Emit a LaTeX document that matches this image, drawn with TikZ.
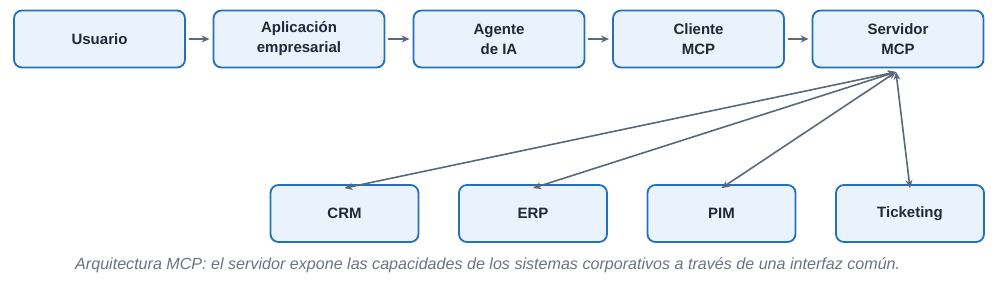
\documentclass[tikz,border=0pt]{standalone}
\usepackage{fontspec}
\setmainfont{Liberation Sans}
\usetikzlibrary{arrows.meta}
\definecolor{boxfill}{HTML}{EAF2FB}
\definecolor{boxdraw}{HTML}{2270C0}
\definecolor{arrowc}{HTML}{5B6878}
\definecolor{textc}{HTML}{1F2937}
\definecolor{capc}{HTML}{6B7280}
\begin{document}
\begin{tikzpicture}[x=1pt,y=-1pt,
  block/.style={draw=boxdraw, fill=boxfill, line width=1.8pt, rounded corners=8pt,
    minimum width=171pt, minimum height=57pt, inner sep=0pt, align=center,
    font=\fontsize{15}{20}\selectfont\bfseries, text=textc},
  sysbox/.style={block, minimum width=148pt},
  flow/.style={draw=arrowc, line width=1.6pt, -{Stealth[length=8pt,width=7pt]}, shorten <=3pt, shorten >=3pt},
  link/.style={draw=arrowc, line width=1.6pt, {Stealth[length=8pt,width=7pt]}-{Stealth[length=8pt,width=7pt]}}
]
\useasboundingbox (0,0) rectangle (1005,288);
\node[block] (u) at (99.5,39) {Usuario};
\node[block] (app) at (299,39) {Aplicación\\empresarial};
\node[block] (ag) at (499,39) {Agente\\de IA};
\node[block] (cli) at (698.5,39) {Cliente\\MCP};
\node[block] (srv) at (898,39) {Servidor\\MCP};
\node[sysbox] (crm) at (344.5,213.5) {CRM};
\node[sysbox] (erp) at (533,213.5) {ERP};
\node[sysbox] (pim) at (721.5,213.5) {PIM};
\node[sysbox] (tk) at (910,213.5) {Ticketing};
\draw[flow] (u) -- (app);
\draw[flow] (app) -- (ag);
\draw[flow] (ag) -- (cli);
\draw[flow] (cli) -- (srv);
\coordinate (hub) at (896,72);
\draw[link] (hub) -- ([yshift=-4pt]crm.north);
\draw[link] (hub) -- ([yshift=-4pt]erp.north);
\draw[link] (hub) -- ([yshift=-4pt]pim.north);
\draw[link] (hub) -- ([yshift=-4pt]tk.north);
\node[anchor=west, font=\fontsize{16.1}{19}\selectfont\itshape, text=capc, inner sep=0pt] (cap) at (75,265) {Arquitectura MCP: el servidor expone las capacidades de los sistemas corporativos a través de una interfaz común.};
\end{tikzpicture}
\end{document}
